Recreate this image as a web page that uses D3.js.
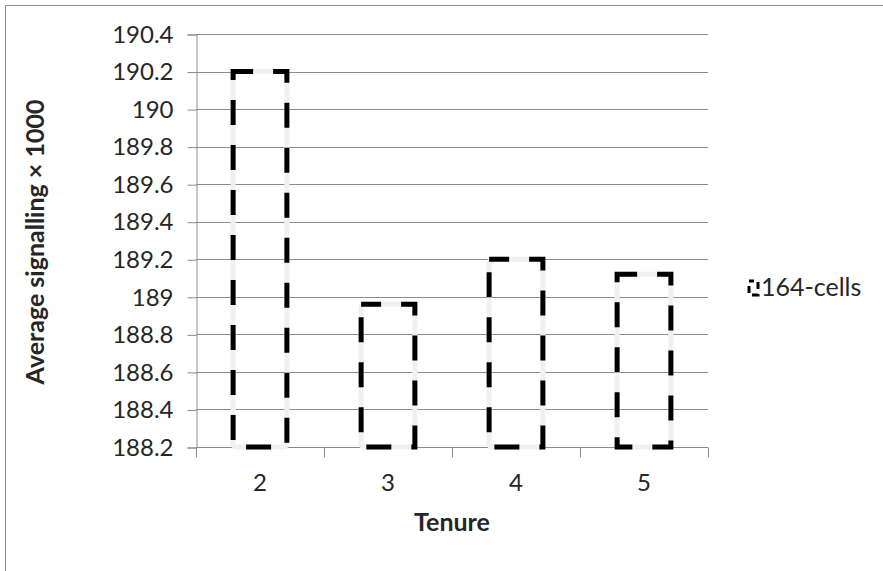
<!DOCTYPE html>
<html>
<head>
<meta charset="utf-8">
<script src="https://cdn.jsdelivr.net/npm/d3@7"></script>
<style>
  body { margin: 0; background: #fff; }
  text { font-family: Lato, "Open Sans", sans-serif; fill: #262626; }
</style>
</head>
<body>
<script>
// Average signalling by tenure, 164 cells
const WIDTH  = 883;
const HEIGHT = 571;

const tenures = ['2', '3', '4', '5'];
const signalling = [190.2, 188.96, 189.2, 189.12];
const yTicks = [188.2, 188.4, 188.6, 188.8, 189, 189.2, 189.4, 189.6, 189.8, 190, 190.2, 190.4];
const seriesName = '164-cells';

const plot = {left: 196, right: 708, top: 34, bottom: 447};

const svg = d3.select('body').append('svg')
    .attr('width', WIDTH)
    .attr('height', HEIGHT);

// chart border (the picture is cropped at right and bottom)
svg.append('rect')
    .attr('x', 5.5).attr('y', 5.5)
    .attr('width', WIDTH + 20).attr('height', HEIGHT + 20)
    .attr('fill', 'none')
    .attr('stroke', '#8c8c8c');

const x = d3.scaleBand()
    .domain(tenures)
    .range([plot.left, plot.right])
    .paddingInner(0.58)
    .paddingOuter(0.29);

const y = d3.scaleLinear()
    .domain([188.2, 190.4])
    .range([plot.bottom, plot.top]);

// gridlines
svg.append('g')
    .selectAll('line')
    .data(yTicks)
    .join('line')
    .attr('x1', plot.left).attr('x2', plot.right)
    .attr('y1', d => Math.round(y(d)) + 0.5)
    .attr('y2', d => Math.round(y(d)) + 0.5)
    .attr('stroke', '#8c8c8c');

// y axis
const yAxis = svg.append('g')
    .attr('transform', `translate(${plot.left + 0.5},0.5)`)
    .call(d3.axisLeft(y).tickValues(yTicks).tickFormat(d3.format('~r')).tickSize(9).tickPadding(14));
yAxis.select('.domain').attr('stroke', '#8c8c8c');
yAxis.selectAll('.tick line').attr('stroke', '#8c8c8c');
yAxis.selectAll('.tick text')
    .attr('font-size', 24)
    .attr('fill', '#333')
    .attr('font-family', 'Lato, sans-serif');

// x axis: ticks sit on category boundaries
const xAxis = svg.append('g')
    .attr('transform', `translate(0,${plot.bottom + 0.5})`);
xAxis.append('line')
    .attr('x1', plot.left).attr('x2', plot.right)
    .attr('stroke', '#8c8c8c');
const step = x.step();
xAxis.selectAll('line.tk')
    .data(d3.range(tenures.length + 1))
    .join('line')
    .attr('class', 'tk')
    .attr('x1', i => Math.round(plot.left + i * step) + 0.5)
    .attr('x2', i => Math.round(plot.left + i * step) + 0.5)
    .attr('y1', 0).attr('y2', 10)
    .attr('stroke', '#8c8c8c');
xAxis.selectAll('text')
    .data(tenures)
    .join('text')
    .attr('x', d => x(d) + x.bandwidth() / 2)
    .attr('y', 43)
    .attr('text-anchor', 'middle')
    .attr('font-size', 24)
    .attr('fill', '#333')
    .text(d => d);

// bars: soft grey outline under a long-dash black border, no fill
const bars = svg.append('g');
const data = tenures.map((t, i) => ({t, v: signalling[i]}));
bars.selectAll('rect.halo')
    .data(data)
    .join('rect')
    .attr('class', 'halo')
    .attr('x', d => x(d.t))
    .attr('y', d => y(d.v))
    .attr('width', x.bandwidth())
    .attr('height', d => y(188.2) - y(d.v))
    .attr('rx', 3)
    .attr('fill', 'none')
    .attr('stroke', '#f0f0f0')
    .attr('stroke-width', 5);
bars.selectAll('rect.bar')
    .data(data)
    .join('rect')
    .attr('class', 'bar')
    .attr('x', d => x(d.t))
    .attr('y', d => y(d.v))
    .attr('width', x.bandwidth())
    .attr('height', d => y(188.2) - y(d.v))
    .attr('fill', 'none')
    .attr('stroke', '#000')
    .attr('stroke-width', 5)
    .attr('stroke-dasharray', '25,20')
    .attr('stroke-dashoffset', 5);

// axis titles
svg.append('text')
    .attr('transform', `translate(44,242) rotate(-90)`)
    .attr('text-anchor', 'middle')
    .attr('font-size', 25)
    .attr('font-weight', 'bold')
    .attr('fill', '#222')
    .text('Average signalling × 1000');

svg.append('text')
    .attr('x', 452)
    .attr('y', 531)
    .attr('text-anchor', 'middle')
    .attr('font-size', 25)
    .attr('font-weight', 'bold')
    .attr('fill', '#222')
    .text('Tenure');

// legend
const legend = svg.append('g').attr('transform', 'translate(749,281)');
legend.append('rect')
    .attr('width', 9).attr('height', 14)
    .attr('fill', 'none')
    .attr('stroke', '#000')
    .attr('stroke-width', 3)
    .attr('stroke-dasharray', '7,5')
    .attr('stroke-dashoffset', 2);
legend.append('text')
    .attr('x', 12)
    .attr('y', 15)
    .attr('font-size', 25)
    .attr('fill', '#333')
    .text(seriesName);
</script>
</body>
</html>
